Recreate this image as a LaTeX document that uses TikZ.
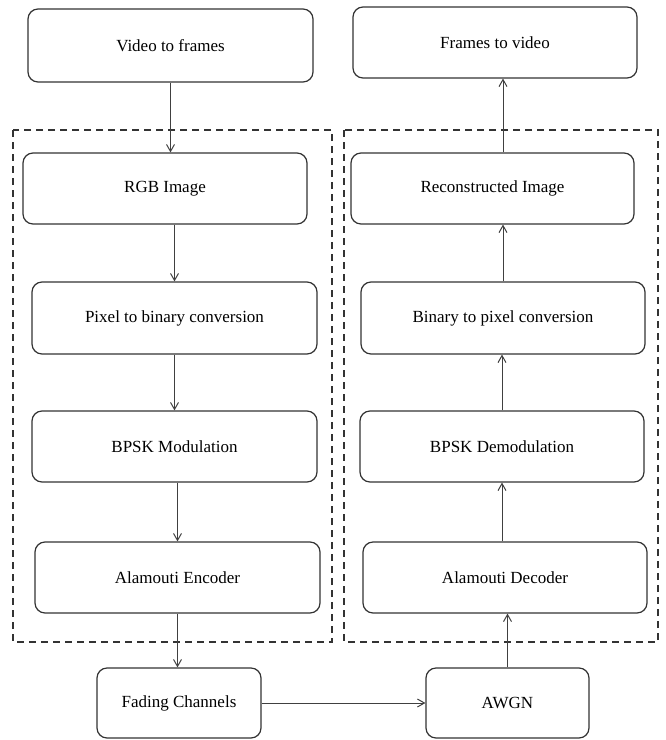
\documentclass[tikz,border=0pt]{standalone}
\usepackage{fontspec}
\setmainfont{Liberation Serif}
\usetikzlibrary{arrows.meta}
\begin{document}
\begin{tikzpicture}[x=1pt,y=-1pt,
  blk/.style={draw=black!80, line width=1.2pt, rounded corners=10pt, inner sep=0pt,
    font=\fontsize{17}{20}\selectfont, text=black},
  flow/.style={draw=black!75, line width=1pt, -{Straight Barb[length=7pt,width=8pt,line width=1pt]}},
  grp/.style={draw=black!80, line width=1.1pt, dash pattern=on 7pt off 5pt}]
\useasboundingbox (0,0) rectangle (665,740);
% group boxes
\draw[grp] (13,130) rectangle (332,642);
\draw[grp] (344,130) rectangle (658,642);
% nodes
\node[blk, minimum width=285, minimum height=73] (vtf) at (170.5,45.5) {Video to frames};
\node[blk, minimum width=284, minimum height=71] (ftv) at (495,42.5) {Frames to video};
\node[blk, minimum width=284, minimum height=71] (rgb) at (165,188.5) {RGB Image};
\node[blk, minimum width=285, minimum height=72] (pix) at (174.5,318) {Pixel to binary conversion};
\node[blk, minimum width=285, minimum height=71] (bpsk) at (174.5,446.5) {BPSK Modulation};
\node[blk, minimum width=285, minimum height=71] (enc) at (177.5,577.5) {Alamouti Encoder};
\node[blk, minimum width=283, minimum height=71] (rec) at (492.5,188.5) {Reconstructed Image};
\node[blk, minimum width=284, minimum height=72] (bin) at (503,318) {Binary to pixel conversion};
\node[blk, minimum width=284, minimum height=71] (dem) at (502,446.5) {BPSK Demodulation};
\node[blk, minimum width=284, minimum height=71] (dec) at (505,577.5) {Alamouti Decoder};
\node[blk, minimum width=164, minimum height=70] (fad) at (179,703) {Fading Channels};
\node[blk, minimum width=163, minimum height=70] (awgn) at (507.5,703) {AWGN};
% connectors
\draw[flow] (vtf.south) -- (vtf.south |- rgb.north);
\draw[flow] (pix.north |- rgb.south) -- (pix.north);
\draw[flow] (pix.south) -- (pix.south |- bpsk.north);
\draw[flow] (enc.north |- bpsk.south) -- (enc.north);
\draw[flow] (enc.south) -- (enc.south |- fad.north);
\draw[flow] (fad.east) -- (awgn.west);
\draw[flow] (awgn.north) -- (awgn.north |- dec.south);
\draw[flow] (dem.south |- dec.north) -- (dem.south);
\draw[flow] (dem.north) -- (dem.north |- bin.south);
\draw[flow] (bin.north) -- (bin.north |- rec.south);
\draw[flow] (bin.north |- rec.north) -- (bin.north |- ftv.south);
\end{tikzpicture}
\end{document}
